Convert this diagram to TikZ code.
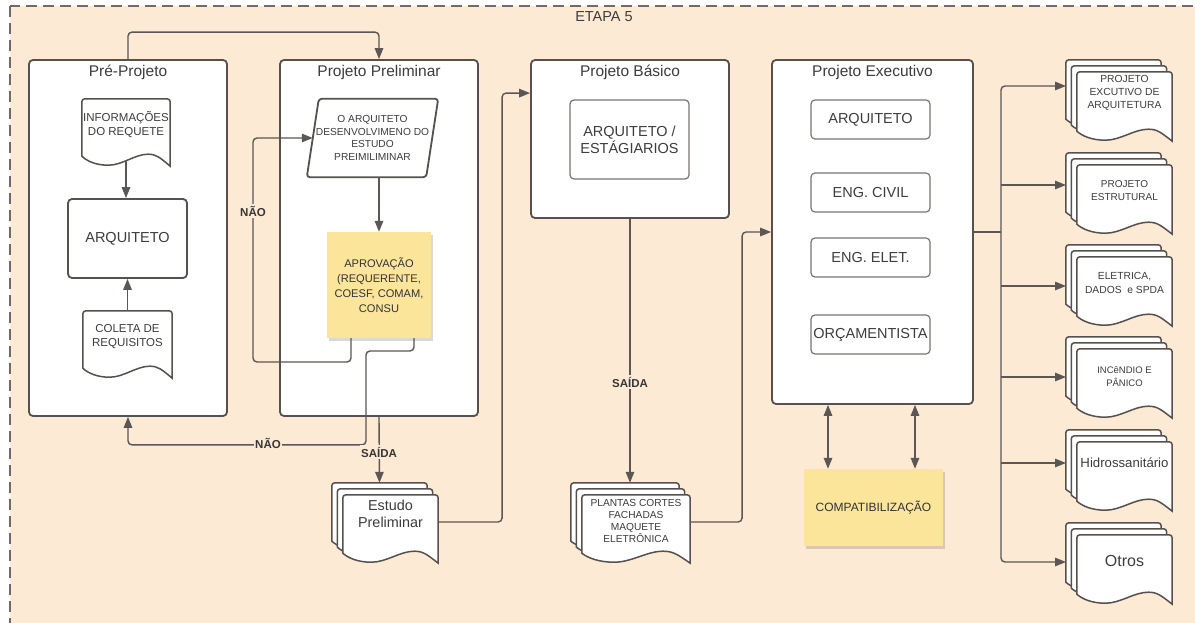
\documentclass[tikz,border=0pt]{standalone}
\usepackage{fontspec}
\setmainfont{Liberation Sans}
\usetikzlibrary{calc,arrows.meta,shadows}

\definecolor{peach}{RGB}{253,234,212}
\definecolor{sticky}{RGB}{251,229,155}
\definecolor{edge}{RGB}{86,80,78}
\definecolor{soft}{RGB}{122,116,114}
\definecolor{ink}{RGB}{62,60,60}
\definecolor{wirec}{RGB}{92,86,84}
\definecolor{framec}{RGB}{112,106,104}

\tikzset{
  panel/.style={draw=edge, line width=1.8pt, fill=white, rounded corners=4pt, inner sep=0pt},
  role/.style={draw=edge, line width=1.8pt, rounded corners=4pt, inner sep=0pt, align=center, text=ink},
  lightrole/.style={draw=soft, line width=1.2pt, rounded corners=4pt, inner sep=0pt, align=center, text=ink,
    font=\fontsize{14.5}{17}\selectfont},
  ttl/.style={text=ink, inner sep=0pt, font=\fontsize{15.5}{18}\selectfont},
  note/.style={fill=sticky, inner sep=0pt, align=center, text=black!80,
    drop shadow={shadow xshift=1.5pt, shadow yshift=-3pt, fill=black, opacity=0.15}},
  sheetbody/.style={inner sep=0pt},
  sheetline/.style={draw=edge, line width=1.5pt, fill=white},
  sheettxt/.style={inner sep=0pt, align=center, text=ink},
  wire/.style={draw=wirec, line width=1.4pt},
  arr/.style={wire, -{Triangle[length=11pt,width=8.5pt]}},
  dblarr/.style={wire, {Triangle[length=11pt,width=8.5pt]}-{Triangle[length=11pt,width=8.5pt]}},
  flag/.style={fill=peach, inner sep=1.5pt, text=ink!90!black, font=\bfseries\fontsize{11.5}{13}\selectfont},
}

% one sheet of a document symbol, offset by (#2,#3) from node #1
\newcommand\sheet[3]{%
  \path[sheetline] let \p1=($(#1.north west)+(#2,#3)$), \p2=($(#1.south east)+(#2,#3)$), \n1={\x2-\x1} in
    (\x1,\y2+10) [rounded corners=3pt] -- (\x1,\y1) -- (\x2,\y1) [sharp corners] -- (\x2,\y2)
    .. controls (\x1+0.88*\n1,\y2+9) and (\x1+0.84*\n1,\y2+12) .. (\x1+0.75*\n1,\y2+12)
    .. controls (\x1+0.6*\n1,\y2+12) and (\x1+0.46*\n1,\y2+1) .. (\x1+0.3*\n1,\y2+1)
    .. controls (\x1+0.16*\n1,\y2+1) and (\x1+0.06*\n1,\y2+5) .. (\x1,\y2+10) -- cycle;}
\newcommand\sheetstack[1]{\sheet{#1}{-11}{12}\sheet{#1}{-5.5}{6}\sheet{#1}{0}{0}}

\begin{document}
\begin{tikzpicture}[x=1pt,y=1pt]
\useasboundingbox (0,0) rectangle (1195,-623);
\fill[white] (0,0) rectangle (1195,-623);
\begin{scope}
  \clip (0,0) rectangle (1195,-623);
  \draw[draw=framec, line width=1.1pt, dash pattern=on 11pt off 6pt, fill=peach] (10,-6) rectangle (1210,-630);
\end{scope}
\node[ttl, font=\fontsize{14.5}{17}\selectfont] (etapa) at (604,-17) {ETAPA 5};

% stage panels
\node[panel, minimum width=198pt, minimum height=356pt] (pre) at (128,-238) {};
\node[panel, minimum width=198pt, minimum height=356pt] (prel) at (379,-238) {};
\node[panel, minimum width=198pt, minimum height=158pt] (bas) at (630,-139) {};
\node[panel, minimum width=201pt, minimum height=344pt] (exe) at (872.5,-232) {};

\node[ttl] (preT) at (128,-72) {Pré-Projeto};
\node[ttl] (prelT) at (379,-72) {Projeto Preliminar};
\node[ttl] (basT) at (630,-72) {Projeto Básico};
\node[ttl] (exeT) at (872.5,-72) {Projeto Executivo};

% Pré-Projeto
\node[sheetbody, minimum width=88pt, minimum height=67pt] (info) at (126,-132.5) {};
\node[sheetbody, minimum width=89pt, minimum height=67pt] (coleta) at (127.5,-344.5) {};
\sheet{info}{0}{0}
\sheet{coleta}{0}{0}
\node[sheettxt, font=\fontsize{11.5}{14}\selectfont] (infoT) at (126,-125) {INFORMAÇÕES\\DO REQUETE};
\node[sheettxt, font=\fontsize{11.5}{14}\selectfont] (coletaT) at (127.5,-337) {COLETA DE\\REQUISITOS};
\node[role, minimum width=119pt, minimum height=79pt, font=\fontsize{14.5}{17}\selectfont] (arq1) at (127.5,-238.5) {ARQUITETO};

% Projeto Preliminar
\node[inner sep=0pt, minimum width=119pt, minimum height=78pt, align=center, text=ink,
  font=\fontsize{10.2}{12.6}\selectfont] (para) at (372.5,-138) {O ARQUITETO\\DESENVOLVIMENO DO\\ESTUDO\\PREIMILIMINAR};
\draw[draw=edge, line width=1.8pt, rounded corners=3pt]
  ($(para.north west)+(6,0)$) -- ($(para.north east)+(6,0)$) -- ($(para.south east)+(-6,0)$) -- ($(para.south west)+(-6,0)$) -- cycle;
\node[note, minimum width=104pt, minimum height=106pt, font=\fontsize{11.1}{15}\selectfont] (aprov) at (379,-285)
  {APROVAÇÃO\\(REQUERENTE,\\COESF, COMAM,\\CONSU};

% Projeto Básico
\node[lightrole, minimum width=119pt, minimum height=79pt] (arq2) at (629.5,-139.5) {ARQUITETO /\\ESTÁGIARIOS};

% Projeto Executivo
\node[lightrole, minimum width=119pt, minimum height=39pt] (ex1) at (870.5,-119.5) {ARQUITETO};
\node[lightrole, minimum width=119pt, minimum height=39pt] (ex2) at (870.5,-192.5) {ENG. CIVIL};
\node[lightrole, minimum width=119pt, minimum height=39pt] (ex3) at (870.5,-257.5) {ENG. ELET.};
\node[lightrole, minimum width=119pt, minimum height=39pt] (ex4) at (870.5,-334.5) {ORÇAMENTISTA};
\node[note, minimum width=139pt, minimum height=77pt, font=\fontsize{12}{14}\selectfont] (compat) at (873.5,-507.5) {COMPATIBILIZAÇÃO};

% deliverable stacks
\node[sheetbody, minimum width=95pt, minimum height=68pt] (est) at (390.5,-529) {};
\node[sheetbody, minimum width=108pt, minimum height=68pt] (pl) at (636,-529) {};
\sheetstack{est}
\sheetstack{pl}
\node[sheettxt, font=\fontsize{14.4}{17}\selectfont] (estT) at (390.5,-514) {Estudo\\Preliminar};
\node[sheettxt, font=\fontsize{10.2}{12.3}\selectfont] (plT) at (636,-521) {PLANTAS CORTES\\FACHADAS\\MAQUETE\\ELETRÔNICA};

\foreach \k/\cy in {1/106.5,2/199.5,3/291.5,4/383.5,5/476.5,6/569.5}{
  \node[sheetbody, minimum width=95pt, minimum height=69pt] (rd\k) at (1124.5,-\cy) {};
  \sheetstack{rd\k}
}
\node[sheettxt, font=\fontsize{10.3}{13}\selectfont] (rd1T) at (1124.5,-93) {PROJETO\\EXCUTIVO DE\\ARQUITETURA};
\node[sheettxt, font=\fontsize{10}{13}\selectfont] (rd2T) at (1124.5,-190.5) {PROJETO\\ESTRUTURAL};
\node[sheettxt, font=\fontsize{10.3}{13.5}\selectfont] (rd3T) at (1124.5,-283) {ELETRICA,\\DADOS\ \ e SPDA};
\node[sheettxt, font=\fontsize{9.5}{13}\selectfont] (rd4T) at (1124.5,-376.5) {INCêNDIO E\\PÂNICO};
\node[sheettxt, font=\fontsize{13.2}{15}\selectfont] (rd5T) at (1124.5,-463) {Hidrossanitário};
\node[sheettxt, font=\fontsize{16}{18}\selectfont] (rd6T) at (1124.5,-561) {Otros};

% connectors
\draw[arr, rounded corners=4pt] (pre.north) -- ($(pre.north)+(0,27)$) -| (prel.north);
\draw[arr, shorten <=-6pt] (info.south) -- (arq1.north -| info.south);
\draw[arr] (coleta.north) -- (arq1.south);
\draw[arr] (aprov.north |- para.south) -- (aprov.north);

\coordinate (noA) at (253,-362);
\draw[arr, rounded corners=4pt] ($(aprov.south)+(-28,0)$) |- (noA) |- (para.west);
\node[flag] (noAT) at (253,-211) {NÃO};

\coordinate (noB) at (366,-351);
\draw[arr, rounded corners=4pt] ($(aprov.south)+(35,0)$) |- (noB) |- ($(pre.south)+(0,-28)$) -- (pre.south);
\node[flag] (noBT) at (268,-443) {NÃO};

\draw[arr] (prel.south) -- ($(est.north)+(-11,12)$);
\node[flag] (outA) at (379,-452) {SAÍDA};

\draw[arr, rounded corners=4pt] ($(est.east)+(0,7)$) -| ($(bas.north west)+(-28,-34)$) -- ($(bas.north west)+(0,-34)$);

\coordinate (plTop) at ($(pl.north)+(-11,12)$);
\draw[arr] (bas.south) -- (bas.south |- plTop);
\node[flag] (outB) at (630,-382) {SAÍDA};

\draw[arr, rounded corners=4pt] ($(pl.east)+(0,7)$) -| ($(exe.west)+(-29,0)$) -- (exe.west);

\draw[dblarr] ($(exe.south)+(-44.5,0)$) -- ($(compat.north)+(-45.5,0)$);
\draw[dblarr] ($(exe.south)+(42.5,0)$) -- ($(compat.north)+(41.5,0)$);

\coordinate (bus) at (1001,-232);
\coordinate (in1) at (1066,-86);
\coordinate (in2) at (1066,-185);
\coordinate (in3) at (1066,-286);
\coordinate (in4) at (1066,-377);
\coordinate (in5) at (1066,-463);
\coordinate (in6) at (1066,-562);
\draw[wire] (exe.east) -- (bus);
\draw[arr, rounded corners=4pt] (bus) |- (in1);
\draw[arr, rounded corners=4pt] (bus) |- (in6);
\foreach \k in {2,3,4,5} \draw[arr] (bus |- in\k) -- (in\k);
\end{tikzpicture}
\end{document}
